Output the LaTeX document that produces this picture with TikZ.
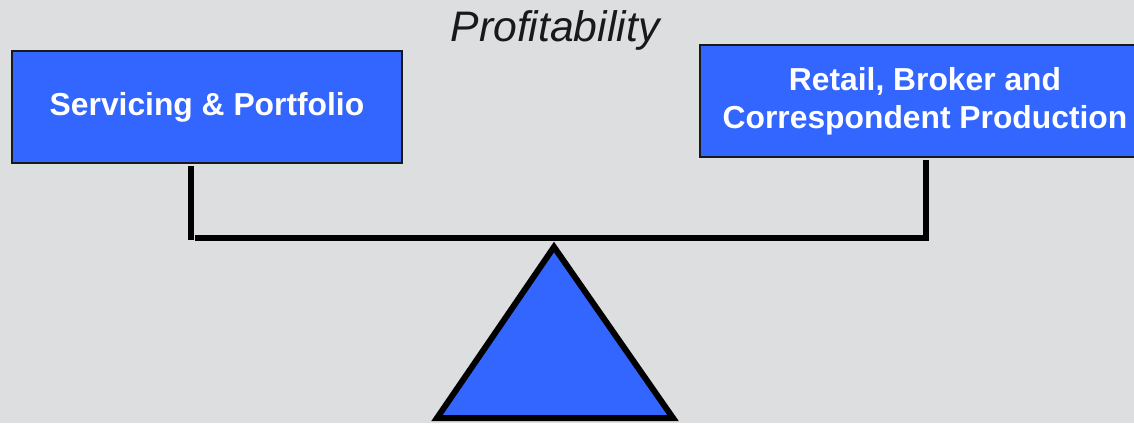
\documentclass[tikz,border=0pt]{standalone}
\usepackage{fontspec}
\setmainfont{Liberation Sans}
\definecolor{scaleblue}{HTML}{3366FF}
\definecolor{backgray}{HTML}{DDDEE0}

\tikzset{
  sidebox/.style={draw=black!90, line width=2, fill=scaleblue, text=white,
    align=center, inner sep=0, font=\bfseries\fontsize{31.8}{38}\selectfont},
  beam/.style={line width=5.5},
}

\begin{document}
\begin{tikzpicture}[x=1pt,y=-1pt]
\fill[backgray] (0,0) rectangle (1134,423);
\useasboundingbox (0,0) rectangle (1134,423);

\coordinate (pl) at (191,166);
\coordinate (ql) at (191,240);
\coordinate (bl) at (195,238);
\coordinate (br) at (926,238);
\coordinate (pr) at (926,160);

\coordinate (top) at (554,247);
\coordinate (lo) at (437,418);
\coordinate (ro) at (673,418);

\node[font=\itshape\fontsize{42.7}{48}\selectfont, text=black!90, anchor=base] (title) at (555,41) {Profitability};

\node[sidebox, minimum width=390, minimum height=112] (serv) at (207,107) {Servicing \& Portfolio};
\node[sidebox, minimum width=450, minimum height=112] (prod) at (925,101) {Retail, Broker and\\Correspondent Production};

\draw[beam] (pl) -- (ql) ; %left post
\draw[beam] (bl) -- (br) -- (pr) ;

\draw[line width=6, fill=scaleblue] (top) -- (lo) -- (ro) -- cycle ; %pivot
\end{tikzpicture}
\end{document}
